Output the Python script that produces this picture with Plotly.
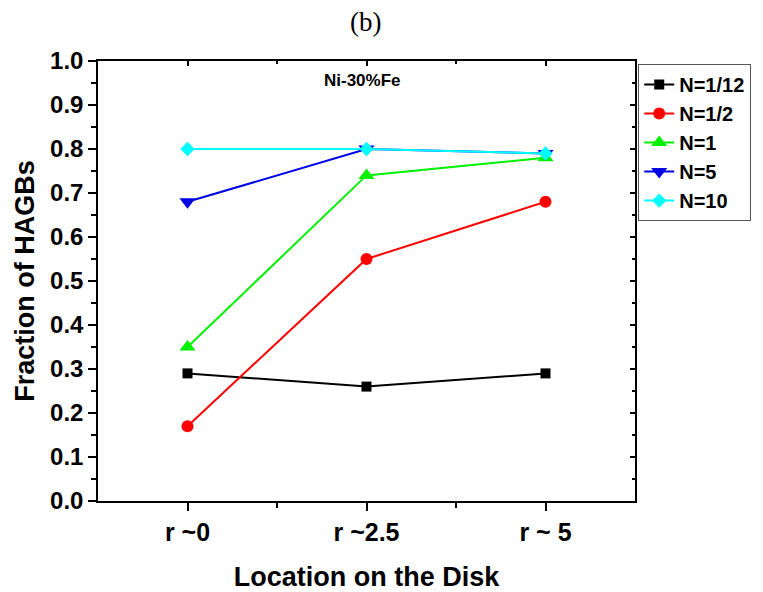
import plotly.graph_objects as go

categories = ["r ~0", "r ~2.5", "r ~ 5"]
series_names = ["N=1/12", "N=1/2", "N=1", "N=5", "N=10"]
vals_n1_12 = [0.29, 0.26, 0.29]
vals_n1_2 = [0.17, 0.55, 0.68]
vals_n1 = [0.35, 0.74, 0.78]
vals_n5 = [0.68, 0.80, 0.79]
vals_n10 = [0.80, 0.80, 0.79]
y_ticks = [0.0, 0.1, 0.2, 0.3, 0.4, 0.5, 0.6, 0.7, 0.8, 0.9, 1.0]

all_vals = [vals_n1_12, vals_n1_2, vals_n1, vals_n5, vals_n10]
colors = ["#000000", "#FF0000", "#00F000", "#0000E6", "#00FFFF"]
symbols = ["square", "circle", "triangle-up", "triangle-down", "diamond"]
sizes = [10, 12, 14, 14, 11]

x_pos = list(range(1, len(categories) + 1))
minor_x = [p + 0.5 for p in x_pos[:-1]]

fig = go.Figure()
for name, vals, c, s, sz in zip(series_names, all_vals, colors, symbols, sizes):
    fig.add_trace(go.Scatter(
        x=x_pos, y=vals, name=name, mode="lines+markers",
        line=dict(color=c, width=2),
        marker=dict(symbol=s, size=sz, color=c),
    ))

# dummy traces so mirrored axes are drawn
fig.add_trace(go.Scatter(x=[None], y=[None], xaxis="x2", yaxis="y", showlegend=False, hoverinfo="skip"))
fig.add_trace(go.Scatter(x=[None], y=[None], xaxis="x", yaxis="y2", showlegend=False, hoverinfo="skip"))

font_main = "Liberation Sans, Arial, sans-serif"
xr = [0.5, len(categories) + 0.5]

L, R, T, B = 98, 128, 61, 91
W, H = 763, 592

fig.update_layout(
    width=W, height=H,
    margin=dict(l=L, r=R, t=T, b=B, autoexpand=False),
    paper_bgcolor="white", plot_bgcolor="white",
    font=dict(family=font_main, color="black"),
    showlegend=True,
    legend=dict(
        x=1.006, y=0.993, xanchor="left", yanchor="top",
        bordercolor="#555555", borderwidth=1,
        font=dict(family=font_main, size=20, color="black", weight="bold"),
        itemwidth=30, tracegroupgap=0,
    ),
    xaxis=dict(
        range=xr, tickmode="array", tickvals=x_pos, ticktext=categories,
        automargin=False,
        showline=True, linecolor="black", linewidth=1.5,
        ticks="outside", ticklen=8, tickwidth=1.5, tickcolor="black",
        minor=dict(tickvals=minor_x, ticks="outside", ticklen=5, tickwidth=1.5, tickcolor="black"),
        showgrid=False, zeroline=False,
        tickfont=dict(size=25, family=font_main, weight="bold"),
        title=dict(text="Location on the Disk", font=dict(size=27, family=font_main, weight="bold"), standoff=24),
    ),
    yaxis=dict(
        range=[0, 1], tickmode="array", tickvals=y_ticks,
        ticktext=[f"{v:.1f}" for v in y_ticks],
        automargin=False,
        showline=True, linecolor="black", linewidth=1.5,
        ticks="outside", ticklen=8, tickwidth=1.5, tickcolor="black",
        minor=dict(dtick=0.05, ticks="outside", ticklen=5, tickwidth=1.5, tickcolor="black"),
        showgrid=False, zeroline=False,
        tickfont=dict(size=24, family=font_main, weight="bold"),
        title=dict(text="Fraction of HAGBs", font=dict(size=27, family=font_main, weight="bold"), standoff=8),
    ),
    xaxis2=dict(
        overlaying="x", side="top", anchor="y", range=xr, automargin=False,
        tickmode="array", tickvals=x_pos, showticklabels=False,
        showline=True, linecolor="black", linewidth=1.5,
        ticks="inside", ticklen=5, tickwidth=1.5, tickcolor="black",
        minor=dict(tickvals=minor_x, ticks="inside", ticklen=3, tickwidth=1.5, tickcolor="black"),
        showgrid=False, zeroline=False,
    ),
    yaxis2=dict(
        overlaying="y", side="right", anchor="x", range=[0, 1], automargin=False,
        tickmode="array", tickvals=y_ticks, showticklabels=False,
        showline=True, linecolor="black", linewidth=1.5,
        ticks="inside", ticklen=5, tickwidth=1.5, tickcolor="black",
        minor=dict(dtick=0.05, ticks="inside", ticklen=3, tickwidth=1.5, tickcolor="black"),
        showgrid=False, zeroline=False,
    ),
)

pw = W - L - R
ph = H - T - B

def px_to_paper(px, py):
    return (px - L) / pw, 1 - (py - T) / ph

bx, by = px_to_paper(365, 22)
nx, ny = px_to_paper(362, 80)
fig.update_layout(annotations=[
    dict(text="(b)", x=bx, y=by, xref="paper", yref="paper", showarrow=False,
         xanchor="center", yanchor="middle",
         font=dict(family="Liberation Serif, Times New Roman, serif", size=27, color="black")),
    dict(text="Ni-30%Fe", x=nx, y=ny, xref="paper", yref="paper", showarrow=False,
         xanchor="center", yanchor="middle",
         font=dict(family=font_main, size=17, color="black", weight="bold")),
])

fig.write_html("out.html")
